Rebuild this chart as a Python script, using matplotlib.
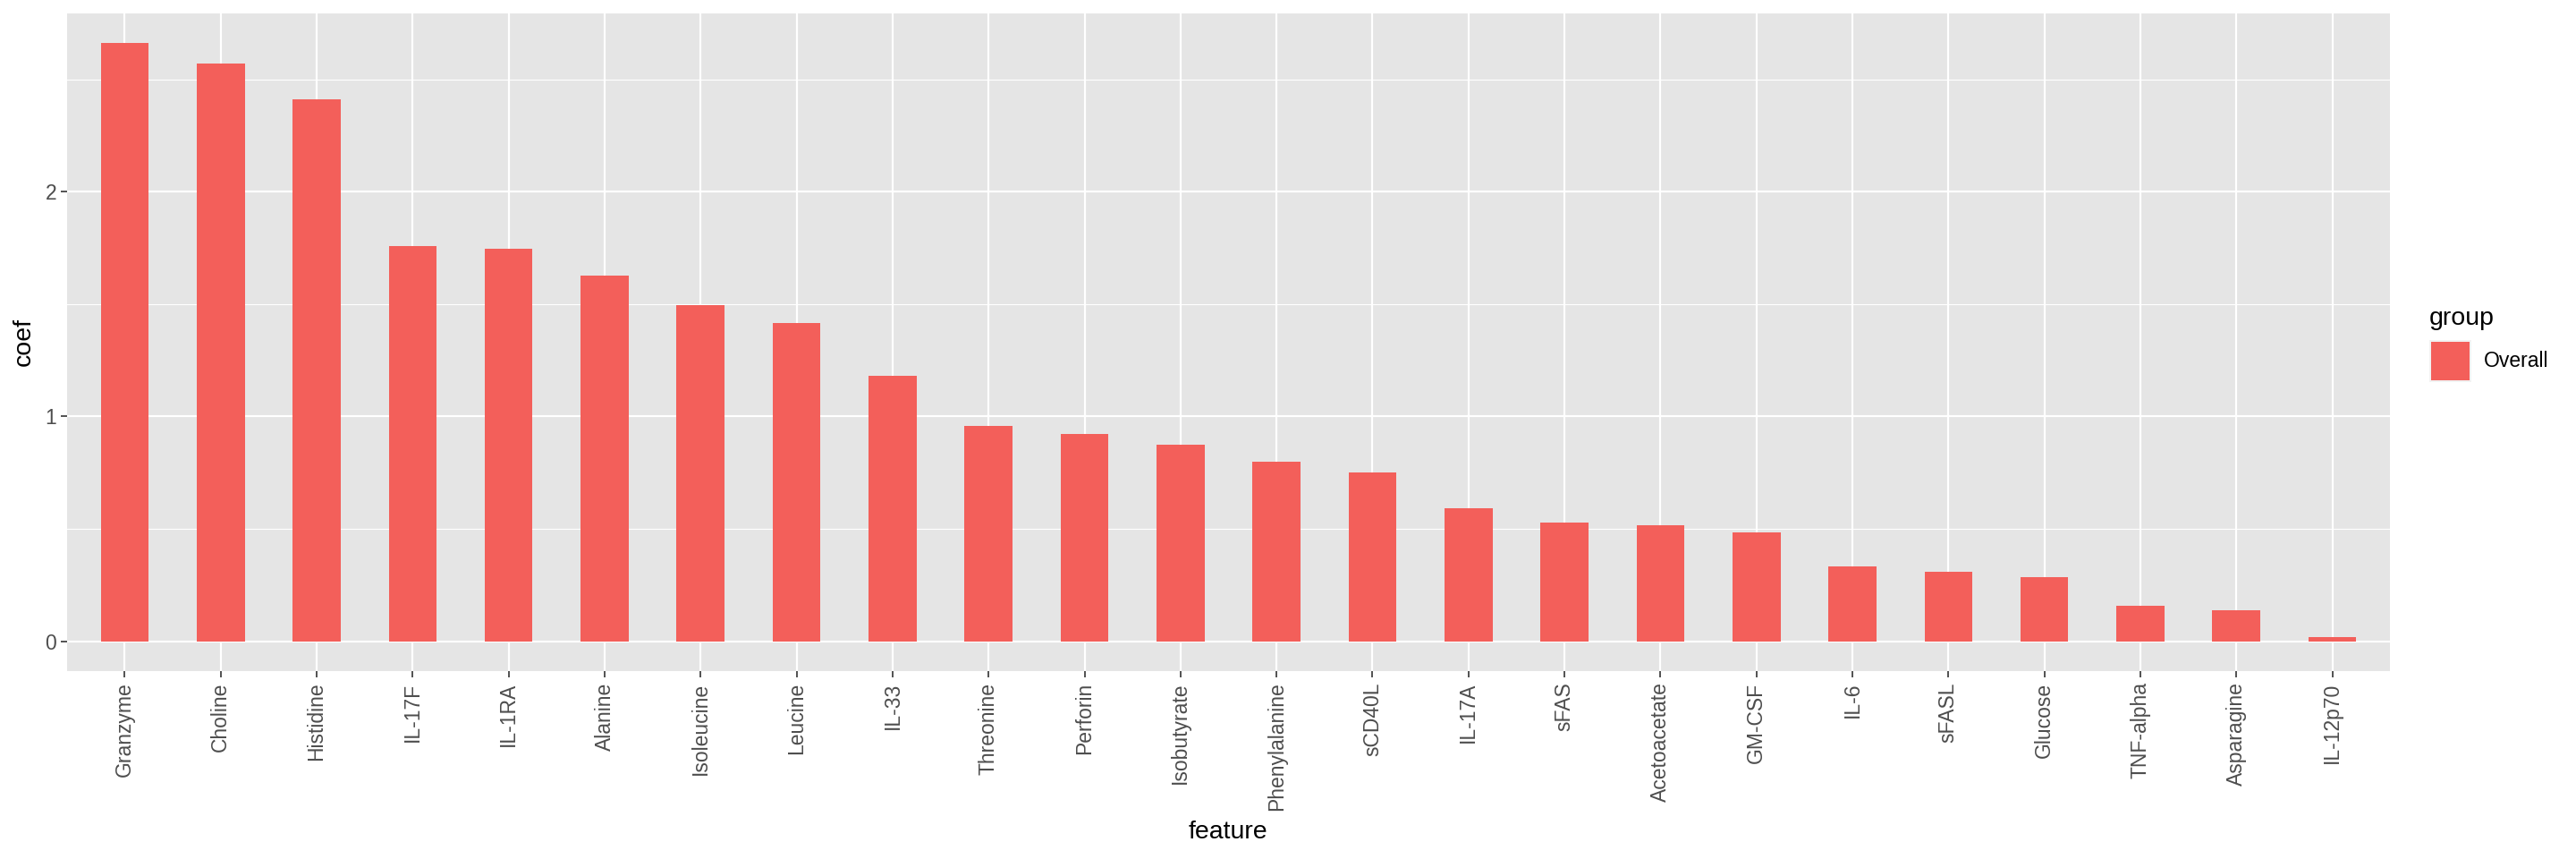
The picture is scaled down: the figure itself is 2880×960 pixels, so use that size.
import matplotlib
matplotlib.use("Agg")
import matplotlib.pyplot as plt
from matplotlib.patches import Rectangle
import numpy as np

features = ["Granzyme", "Choline", "Histidine", "IL-17F", "IL-1RA", "Alanine",
            "Isoleucine", "Leucine", "IL-33", "Threonine", "Perforin", "Isobutyrate",
            "Phenylalanine", "sCD40L", "IL-17A", "sFAS", "Acetoacetate", "GM-CSF",
            "IL-6", "sFASL", "Glucose", "TNF-alpha", "Asparagine", "IL-12p70"]
coef = [2.660, 2.572, 2.412, 1.756, 1.748, 1.628,
        1.497, 1.417, 1.181, 0.958, 0.922, 0.874,
        0.799, 0.751, 0.592, 0.528, 0.516, 0.484,
        0.333, 0.309, 0.285, 0.158, 0.138, 0.019]
group_name = "Overall"
y_ticks = [0, 1, 2]
y_minor = [0.5, 1.5, 2.5]

BAR = "#F35F5A"
PANEL = "#E5E5E5"
FONT = ["Liberation Sans", "DejaVu Sans"]
plt.rcParams["font.family"] = FONT

W, H = 2880, 960
fig = plt.figure(figsize=(W / 100, H / 100), dpi=100)
fig.patch.set_facecolor("white")

left, right, top, bottom = 75, 2672, 15, 750
ax = fig.add_axes([left / W, 1 - bottom / H, (right - left) / W, (bottom - top) / H])
ax.set_facecolor(PANEL)
for s in ax.spines.values():
    s.set_visible(False)

x = np.arange(len(features))
ymax = max(coef)
ax.set_xlim(-0.6, len(features) - 1 + 0.6)
ax.set_ylim(-0.05 * ymax, 1.05 * ymax)

# grid
for v in y_minor:
    ax.axhline(v, color="white", lw=0.8, zorder=0.5)
for v in y_ticks:
    ax.axhline(v, color="white", lw=1.6, zorder=0.6)
for xi in x:
    ax.axvline(xi, color="white", lw=1.6, zorder=0.6)

ax.bar(x, coef, width=0.5, color=BAR, zorder=2, linewidth=0)

ax.set_xticks(x)
ax.set_xticklabels(features, rotation=90, ha="center", va="top")
ax.set_yticks(y_ticks)
ax.set_yticklabels([str(v) for v in y_ticks])
ax.tick_params(axis="both", which="major", length=5, width=1.2, color="#333333",
               labelsize=16.5, labelcolor="#4D4D4D")
ax.tick_params(axis="x", pad=4)
ax.tick_params(axis="y", pad=3.5)
ax.grid(False)

fig.text(1373 / W, 1 - 930 / H, "feature", ha="center", va="center", fontsize=20.5, color="black")
fig.text(27 / W, 1 - 382 / H, "coef", ha="center", va="center", rotation=90, fontsize=20.5, color="black")

# legend
fig.text(2716 / W, 1 - 356 / H, "group", ha="left", va="center", fontsize=20.5, color="black")
fig.patches.append(Rectangle((2716 / W, 1 - 427 / H), 47 / W, 47 / H, transform=fig.transFigure,
                             facecolor="#F2F2F2", edgecolor="none"))
fig.patches.append(Rectangle((2718 / W, 1 - 425 / H), 43 / W, 43 / H, transform=fig.transFigure,
                             facecolor=BAR, edgecolor="none"))
fig.text(2777 / W, 1 - 404 / H, group_name, ha="left", va="center", fontsize=16.5, color="black")

fig.savefig("out.png", dpi=100, facecolor="white")
